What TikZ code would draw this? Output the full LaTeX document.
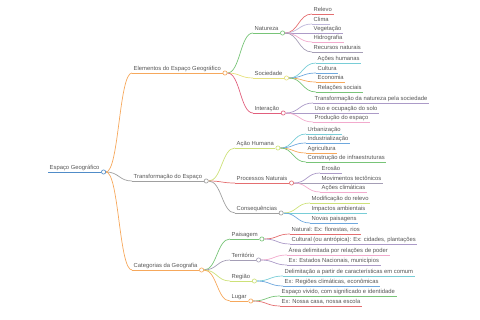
\documentclass[tikz,border=0pt]{standalone}
\usepackage{fontspec}
\setmainfont{Liberation Sans}
\usepackage{tikz}
\usetikzlibrary{calc,positioning}
\definecolor{txtgray}{RGB}{85,85,85}
\definecolor{cBlue}{RGB}{80,140,200}
\definecolor{cOrange}{RGB}{246,168,92}
\definecolor{cGray}{RGB}{160,160,160}
\definecolor{cGreen}{RGB}{120,196,120}
\definecolor{cYellow}{RGB}{230,225,125}
\definecolor{cCrimson}{RGB}{225,95,125}
\definecolor{cYgreen}{RGB}{205,225,120}
\definecolor{cRed}{RGB}{228,110,112}
\definecolor{cPurple}{RGB}{172,155,200}
\definecolor{cLav}{RGB}{190,183,218}
\definecolor{cPink}{RGB}{242,170,205}
\definecolor{cTeal}{RGB}{120,205,215}
\definecolor{cSky}{RGB}{110,168,222}
\definecolor{cGrayp}{RGB}{165,158,182}
\tikzset{
	x=1pt, y=-1pt,
	txt/.style={font=\fontsize{5.85}{7}\selectfont, text=txtgray, anchor=south west, inner xsep=1.5pt, inner ysep=0.8pt, text height=4.4pt, text depth=1.3pt},
	topic/.style={txt, append after command={(\tikzlastnode.south west) edge[draw=#1, line width=.7pt] (\tikzlastnode.south east)}}, % text with coloured underline
	dot/.style={circle, draw=#1, fill=white, line width=.65pt, inner sep=0pt, minimum size=4.2pt, anchor=west}, % small ring at the end of a parent
	link/.style={draw=#1, line width=.7pt, to path={let \p1=(\tikztostart), \p2=(\tikztotarget) in .. controls ({(\x1+\x2)/2},\y1) and ({(\x1+\x2)/2},\y2) .. (\tikztotarget)}}
}
\begin{document}
\begin{tikzpicture}
\useasboundingbox (0,0) rectangle (480,320);
% root and first level
\node[topic=cBlue] (root) at (48,172) {Espaço Geográfico};
\node[dot=cBlue] (root-o) at (root.south east) {};
\node[topic=cOrange] (elem) at (132,73) {Elementos do Espaço Geográfico};
\node[dot=cOrange] (elem-o) at (elem.south east) {};
\node[topic=cGray] (transf) at (132,181) {Transformação do Espaço};
\node[dot=cGray] (transf-o) at (transf.south east) {};
\node[topic=cOrange] (categ) at (132,270) {Categorias da Geografia};
\node[dot=cOrange] (categ-o) at (categ.south east) {};
\draw[link=cOrange] (root-o.east) to (elem.south west);
\draw[link=cGray] (root-o.east) to (transf.south west);
\draw[link=cOrange] (root-o.east) to (categ.south west);
% second level
\node[topic=cGreen] (natur) at (253,33) {Natureza};
\node[dot=cGreen] (natur-o) at (natur.south east) {};
\node[topic=cYellow] (socied) at (253,78) {Sociedade};
\node[dot=cYellow] (socied-o) at (socied.south east) {};
\node[topic=cCrimson] (inter) at (253,113) {Interação};
\node[dot=cCrimson] (inter-o) at (inter.south east) {};
\draw[link=cGreen] (elem-o.east) to (natur.south west);
\draw[link=cYellow] (elem-o.east) to (socied.south west);
\draw[link=cCrimson] (elem-o.east) to (inter.south west);
\node[topic=cYgreen] (acao) at (235,148) {Ação Humana};
\node[dot=cYgreen] (acao-o) at (acao.south east) {};
\node[topic=cRed] (proc) at (235,183) {Processos Naturais};
\node[dot=cRed] (proc-o) at (proc.south east) {};
\node[topic=cGray] (conseq) at (235,213) {Consequências};
\node[dot=cGray] (conseq-o) at (conseq.south east) {};
\draw[link=cYgreen] (transf-o.east) to (acao.south west);
\draw[link=cRed] (transf-o.east) to (proc.south west);
\draw[link=cGray] (transf-o.east) to (conseq.south west);
\node[topic=cGreen] (paisag) at (230,239) {Paisagem};
\node[dot=cGreen] (paisag-o) at (paisag.south east) {};
\node[topic=cGrayp] (territ) at (230,260) {Território};
\node[dot=cGrayp] (territ-o) at (territ.south east) {};
\node[topic=cYgreen] (regiao) at (230,281) {Região};
\node[dot=cYgreen] (regiao-o) at (regiao.south east) {};
\node[topic=cOrange] (lugar) at (230,301) {Lugar};
\node[dot=cOrange] (lugar-o) at (lugar.south east) {};
\draw[link=cGreen] (categ-o.east) to (paisag.south west);
\draw[link=cGrayp] (categ-o.east) to (territ.south west);
\draw[link=cYgreen] (categ-o.east) to (regiao.south west);
\draw[link=cOrange] (categ-o.east) to (lugar.south west);
% leaves of Natureza
\node[topic=cRed] (relevo) at (312,14) {Relevo};
\node[topic=cLav] (clima) at (312,24) {Clima};
\node[topic=cPurple] (veget) at (312,33) {Vegetação};
\node[topic=cPink] (hidro) at (312,42) {Hidrografia};
\node[topic=cGrayp] (recur) at (312,52) {Recursos naturais};
\draw[link=cRed] (natur-o.east) to (relevo.south west);
\draw[link=cLav] (natur-o.east) to (clima.south west);
\draw[link=cPurple] (natur-o.east) to (veget.south west);
\draw[link=cPink] (natur-o.east) to (hidro.south west);
\draw[link=cGrayp] (natur-o.east) to (recur.south west);
% leaves of Sociedade
\node[topic=cTeal] (acoes) at (316,63) {Ações humanas};
\node[topic=cSky] (cultura) at (316,73) {Cultura};
\node[topic=cOrange] (econ) at (316,82) {Economia};
\node[topic=cGreen] (relac) at (316,92) {Relações sociais};
\draw[link=cTeal] (socied-o.east) to (acoes.south west);
\draw[link=cSky] (socied-o.east) to (cultura.south west);
\draw[link=cOrange] (socied-o.east) to (econ.south west);
\draw[link=cGreen] (socied-o.east) to (relac.south west);
% leaves of Interação
\node[topic=cPurple] (transnat) at (313,103) {Transformação da natureza pela sociedade};
\node[topic=cPurple] (uso) at (313,113) {Uso e ocupação do solo};
\node[topic=cPink] (produc) at (313,122) {Produção do espaço};
\draw[link=cPurple] (inter-o.east) to (transnat.south west);
\draw[link=cPurple] (inter-o.east) to (uso.south west);
\draw[link=cPink] (inter-o.east) to (produc.south west);
% leaves of Ação Humana
\node[topic=cTeal] (urban) at (306,134) {Urbanização};
\node[topic=cSky] (indust) at (306,143) {Industrialização};
\node[topic=cOrange] (agric) at (306,153) {Agricultura};
\node[topic=cGreen] (constr) at (306,162) {Construção de infraestruturas};
\draw[link=cTeal] (acao-o.east) to (urban.south west);
\draw[link=cSky] (acao-o.east) to (indust.south west);
\draw[link=cOrange] (acao-o.east) to (agric.south west);
\draw[link=cGreen] (acao-o.east) to (constr.south west);
% leaves of Processos Naturais
\node[topic=cPurple] (erosao) at (320,173) {Erosão};
\node[topic=cGrayp] (movim) at (320,183) {Movimentos tectônicos};
\node[topic=cPink] (aclim) at (320,192) {Ações climáticas};
\draw[link=cPurple] (proc-o.east) to (erosao.south west);
\draw[link=cGrayp] (proc-o.east) to (movim.south west);
\draw[link=cPink] (proc-o.east) to (aclim.south west);
% leaves of Consequências
\node[topic=cYgreen] (modif) at (310,203) {Modificação do relevo};
\node[topic=cTeal] (impac) at (310,213) {Impactos ambientais};
\node[topic=cSky] (novas) at (310,223) {Novas paisagens};
\draw[link=cYgreen] (conseq-o.east) to (modif.south west);
\draw[link=cTeal] (conseq-o.east) to (impac.south west);
\draw[link=cSky] (conseq-o.east) to (novas.south west);
% leaves of the categories
\node[topic=cRed] (natural) at (290,234) {Natural: Ex: florestas, rios};
\node[topic=cPurple] (cultural) at (290,244) {Cultural (ou antrópica): Ex: cidades, plantações};
\draw[link=cRed] (paisag-o.east) to (natural.south west);
\draw[link=cPurple] (paisag-o.east) to (cultural.south west);
\node[topic=cPink] (area) at (287,255) {Área delimitada por relações de poder};
\node[topic=cPurple] (estados) at (287,265) {Ex: Estados Nacionais, municípios};
\draw[link=cPink] (territ-o.east) to (area.south west);
\draw[link=cPurple] (territ-o.east) to (estados.south west);
\node[topic=cTeal] (delim) at (283,276) {Delimitação a partir de características em comum};
\node[topic=cSky] (exreg) at (283,286) {Ex: Regiões climáticas, econômicas};
\draw[link=cTeal] (regiao-o.east) to (delim.south west);
\draw[link=cSky] (regiao-o.east) to (exreg.south west);
\node[topic=cGreen] (vivido) at (280,296) {Espaço vivido, com significado e identidade};
\node[topic=cRed] (casa) at (280,306) {Ex: Nossa casa, nossa escola};
\draw[link=cGreen] (lugar-o.east) to (vivido.south west);
\draw[link=cRed] (lugar-o.east) to (casa.south west);
\end{tikzpicture}
\end{document}
